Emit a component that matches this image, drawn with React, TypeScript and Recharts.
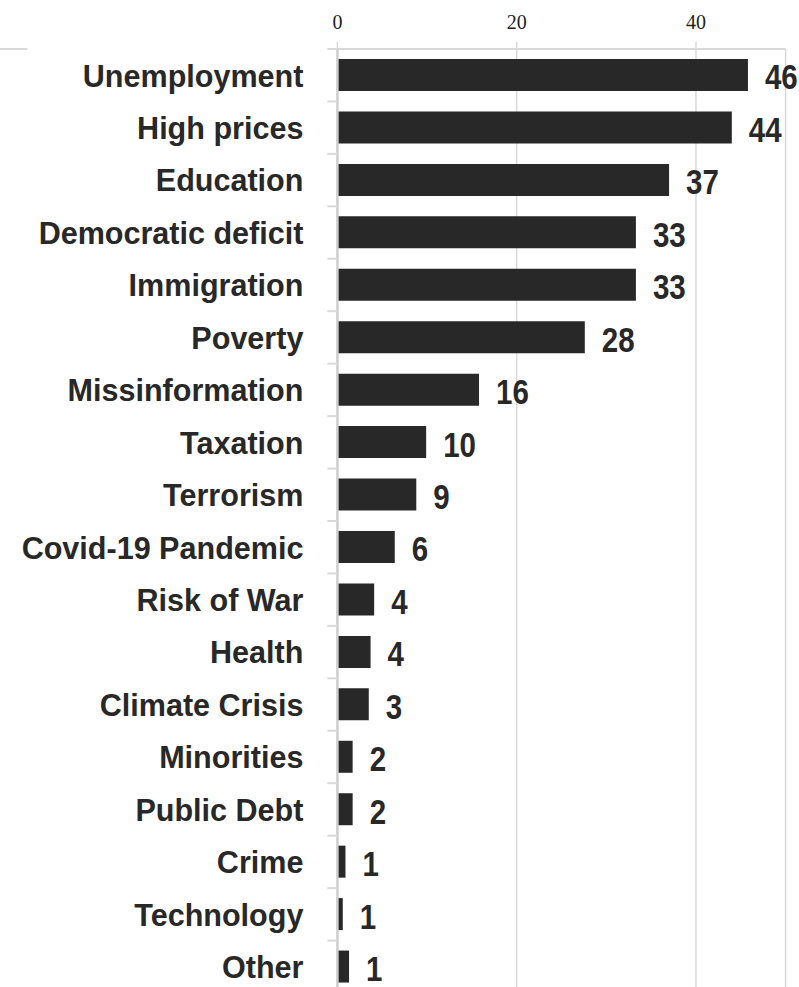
import { BarChart, Bar, XAxis, YAxis, CartesianGrid, LabelList } from 'recharts';

const categories = [
  'Unemployment', 'High prices', 'Education', 'Democratic deficit', 'Immigration',
  'Poverty', 'Missinformation', 'Taxation', 'Terrorism', 'Covid-19 Pandemic',
  'Risk of War', 'Health', 'Climate Crisis', 'Minorities', 'Public Debt',
  'Crime', 'Technology', 'Other',
];
const values = [45.8, 44.0, 37.0, 33.3, 33.3, 27.6, 15.8, 9.9, 8.8, 6.4, 4.1, 3.7, 3.5, 1.7, 1.7, 0.9, 0.6, 1.3];
const valueLabels = ['46', '44', '37', '33', '33', '28', '16', '10', '9', '6', '4', '4', '3', '2', '2', '1', '1', '1'];
const xTicks = [0, 20, 40];

const data = categories.map((name, i) => ({ name, value: values[i], label: valueLabels[i] }));

const W = 799;
const H = 993;
const TOP = 49;
const AXIS_W = 337.4;
const BAND = (H - TOP) / categories.length;
const GRID = '#d9d9d9';
const INK = '#282828';

function CategoryTick(props: any) {
  const { x, y, payload, index } = props;
  const top = y - BAND / 2;
  return (
    <g>
      <line x1={x + 24} x2={x + 34} y1={top} y2={top} stroke={GRID} strokeWidth={2} />
      {index === 0 && <line x1={x - 303.4} x2={x - 276} y1={top} y2={top} stroke={GRID} strokeWidth={2} />}
      <text
        transform={`translate(${x},${y}) scale(0.97,1)`}
        dy="0.36em"
        textAnchor="end"
        fontFamily="'Liberation Sans', Arial, sans-serif"
        fontWeight="bold"
        fontSize={31.5}
        fill={INK}
      >
        {payload.value}
      </text>
    </g>
  );
}

function ValueLabel(props: any) {
  const { x, y, width, height, value } = props;
  return (
    <text
      transform={`translate(${x + width + 17},${y + height / 2 + 1.5}) scale(0.82,1)`}
      dy="0.36em"
      textAnchor="start"
      fontFamily="'Liberation Sans', Arial, sans-serif"
      fontWeight="bold"
      fontSize={36}
      fill={INK}
    >
      {value}
    </text>
  );
}

export default function App() {
  return (
    <div style={{ position: 'absolute', left: 0, top: 0, width: W, height: 987, overflow: 'hidden', background: '#fff' }}>
      <BarChart
        width={W}
        height={H}
        data={data}
        layout="vertical"
        margin={{ top: 0, right: W - 785.6, bottom: 0, left: 0 }}
        style={{ overflow: 'visible' }}
      >
        <CartesianGrid horizontal={false} stroke={GRID} strokeWidth={1.5} />
        <XAxis
          type="number"
          orientation="top"
          domain={[0, 50]}
          ticks={xTicks}
          height={TOP}
          tickSize={7}
          tickMargin={13}
          tickLine={{ stroke: GRID, strokeWidth: 1.5 }}
          axisLine={{ stroke: GRID, strokeWidth: 2 }}
          tick={{ fontFamily: "'Liberation Serif', 'Times New Roman', serif", fontSize: 20, fill: '#222' }}
        />
        <YAxis
          type="category"
          dataKey="name"
          width={AXIS_W}
          tickSize={10}
          tickMargin={24}
          tickLine={false}
          axisLine={{ stroke: '#cfcfcf', strokeWidth: 2.5 }}
          tick={<CategoryTick />}
          interval={0}
        />
        <Bar dataKey="value" fill={INK} barSize={32} isAnimationActive={false}>
          <LabelList dataKey="label" content={<ValueLabel />} />
        </Bar>
      </BarChart>
    </div>
  );
}
